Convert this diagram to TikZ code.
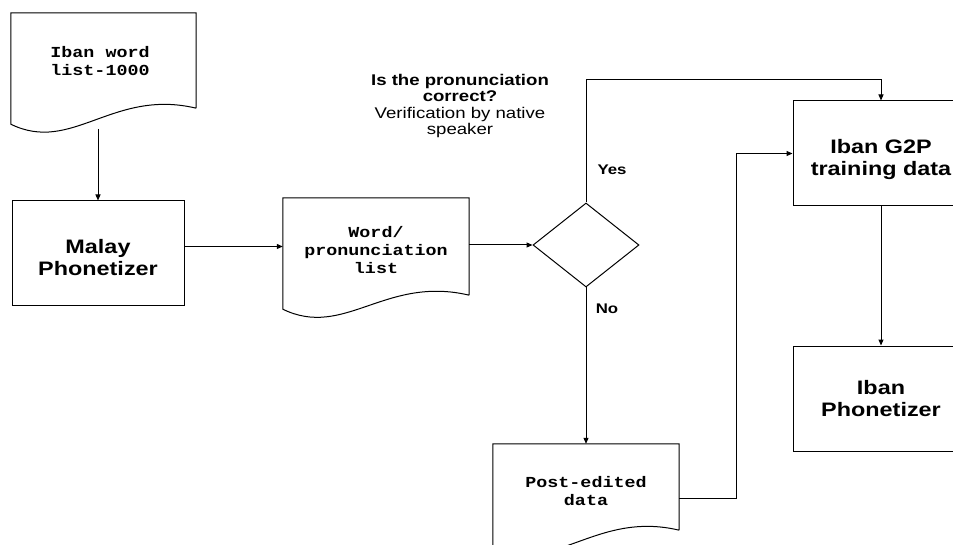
\documentclass[tikz,border=0pt]{standalone}
\usepackage{fontspec}
\setmainfont{Liberation Sans}[FakeStretch=1.2]
\newfontfamily\monofont{Liberation Mono}[FakeStretch=1.2]
\usetikzlibrary{arrows.meta,calc,shapes.geometric}
\tikzset{
  line/.style={draw=black,line width=1pt},
  arr/.style={line,-{Triangle[length=6pt,width=5pt]}},
  procbox/.style={line,rectangle,inner sep=0pt,align=center,font=\bfseries\fontsize{19.5}{22}\selectfont},
  docbox/.style={rectangle,inner sep=0pt,align=center,font=\monofont\bfseries\fontsize{15.3}{18}\selectfont},
  txt/.style={inner sep=0pt,align=center},
  decision/.style={line,diamond,inner sep=0pt},
  lbl/.style={inner sep=0pt,font=\bfseries\fontsize{14}{16}\selectfont},
}
\newcommand\docoutline[2]{% node, left drop
  \draw[line] (#1.south east) -- (#1.north east) -- (#1.north west) -- ($(#1.south west)+(0,#2)$)
    .. controls ($(#1.south west)!0.33!(#1.south east)+(0,#2+30)$) and ($(#1.south west)!0.55!(#1.south east)+(0,-20)$) .. (#1.south east);}
\begin{document}
\begin{tikzpicture}[x=1pt,y=-1pt]
\useasboundingbox (0,0) rectangle (953,545);
\clip (0,0) rectangle (953,545);
% documents
\node[docbox,minimum width=185,minimum height=95] (iban) at (103.5,60.5) {};
\node[docbox] (ibantext) at (100,61) {Iban word\\list-1000};
\docoutline{iban}{16}
\node[docbox,minimum width=186,minimum height=97] (word) at (376,246.5) {};
\node[docbox] (wordtext) at (376,250) {Word/\\pronunciation\\list};
\docoutline{word}{14}
\node[docbox,minimum width=186,minimum height=86] (post) at (586,487) {};
\node[docbox] (posttext) at (586,491) {Post-edited\\data};
\docoutline{post}{16}
% process boxes
\node[procbox,minimum width=172,minimum height=105] (malay) at (98,253.5) {};
\node[txt,font=\bfseries\fontsize{19.5}{22}\selectfont] (malaytext) at (98,258) {Malay\\Phonetizer};
\node[procbox,minimum width=176,minimum height=105] (g2p) at (881,153.5) {};
\node[txt,font=\bfseries\fontsize{19.5}{22}\selectfont] (g2ptext) at (881,160) {Iban G2P\\training data};
\node[procbox,minimum width=176,minimum height=105] (phon) at (881,398.5) {Iban\\Phonetizer};
% decision
\node[decision,minimum width=106,minimum height=84] (dia) at (586,245) {};
% texts
\node[txt,font=\fontsize{15.5}{16.5}\selectfont] (question) at (460,106)
  {\textbf{Is the pronunciation}\\\textbf{correct?}\\Verification by native\\speaker};
\node[lbl] (yes) at (612,170) {Yes};
\node[lbl] (no) at (607,309) {No};
% connectors
\coordinate (ibanout) at (98,129);
\draw[arr] (ibanout) -- (malay.north);
\draw[arr] (malay.east |- word.west) -- (word.west);
\draw[arr] (word.east |- dia.west) -- (dia.west);
\draw[arr] (dia.north) -- ++(0,-123) -| (g2p.north);
\draw[arr] (dia.south) -- (post.north);
\draw[arr] ($(post.east)+(0,11)$) -- ++(57,0) |- (g2p.west);
\draw[arr] (g2p.south) -- (phon.north);
\end{tikzpicture}
\end{document}
